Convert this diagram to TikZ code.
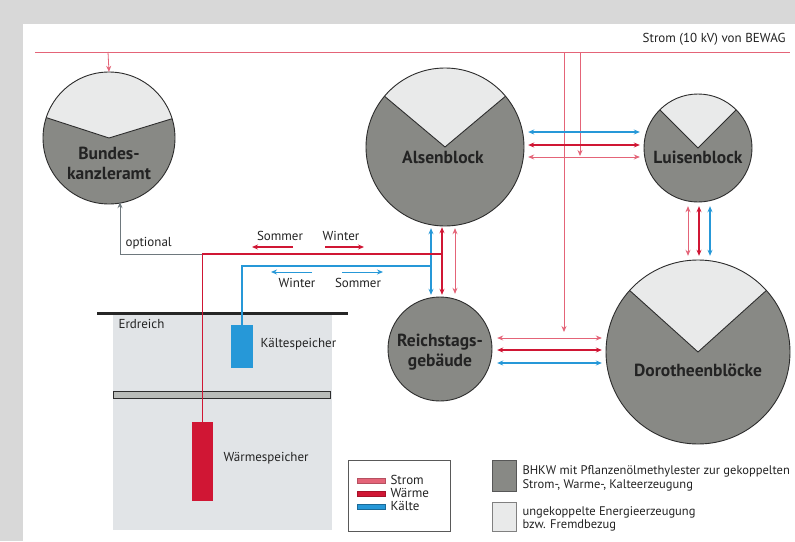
\documentclass[tikz,border=0pt]{standalone}
\usepackage{fontspec}
\setmainfont{PT Sans}
\usetikzlibrary{arrows.meta}
\definecolor{stromc}{RGB}{228,100,120}
\definecolor{waermec}{RGB}{208,22,52}
\definecolor{kaeltec}{RGB}{38,152,216}
\definecolor{darkfill}{RGB}{136,137,133}
\definecolor{lightfill}{RGB}{233,234,234}
\definecolor{framec}{RGB}{216,216,216}
\definecolor{groundc}{RGB}{225,228,231}
\definecolor{optc}{RGB}{110,120,125}
\definecolor{txt}{RGB}{35,35,35}
\definecolor{outlc}{RGB}{45,45,45}
\tikzset{
  strom/.style={draw=stromc, line width=0.8pt},
  waerme/.style={draw=waermec, line width=1.6pt},
  kaelte/.style={draw=kaeltec, line width=1.3pt},
  bldg/.style={circle, fill=darkfill, inner sep=0pt},
  outl/.style={draw=outlc, line width=0.9pt},
  bname/.style={font=\fontsize{17.5}{20}\selectfont\bfseries, text=txt, align=center},
  lbl/.style={font=\fontsize{13}{14}\selectfont, text=txt},
  leg/.style={font=\fontsize{12.5}{13.5}\selectfont, text=txt},
  >={Stealth[length=6pt,width=5pt]}
}
\begin{document}
\begin{tikzpicture}[x=1pt,y=-1pt]
\useasboundingbox (0,0) rectangle (795,541);
\fill[framec] (0,0) rectangle (795,541);
\fill[white] (23,24) rectangle (795,541);

% ground
\fill[groundc] (113,313) rectangle (332,530);
\draw[draw=outlc, fill={rgb,255:red,185;green,188;blue,185}, line width=0.8pt] (113,391) rectangle (330,398);
\draw[line width=3pt, black!85] (97,313) -- (348,313);
\node[lbl, anchor=west] (erd) at (115,324) {Erdreich};
\node[fill=kaeltec, minimum width=22pt, minimum height=43pt, inner sep=0pt] (kspei) at (242,346.5) {};
\node[lbl, anchor=west] (kspeiT) at (257,344) {Kältespeicher};
\node[fill=waermec, minimum width=21pt, minimum height=79pt, inner sep=0pt] (wspei) at (202.5,461.5) {};
\node[lbl, anchor=west] (wspeiT) at (220,458) {Wärmespeicher};

% buildings
\node[bldg, minimum size=132pt] (bka) at (109,138) {};
\fill[lightfill] (bka.center) -- ++(-17:66) arc (-17:-162:66) -- cycle;
\draw[outl] (bka.center) ++(-17:66) -- (bka.center) -- ++(-162:66);
\draw[outl] (bka.center) circle[radius=66pt];
\node[bname] (bkaT) at (109,163) {Bundes-\\kanzleramt};

\node[bldg, minimum size=158pt] (alsen) at (445,147) {};
\fill[lightfill] (alsen.center) -- ++(-40:79) arc (-40:-140:79) -- cycle;
\draw[outl] (alsen.center) ++(-40:79) -- (alsen.center) -- ++(-140:79);
\draw[outl] (alsen.center) circle[radius=79pt];
\node[bname] (alsenT) at (443,157) {Alsenblock};

\node[bldg, minimum size=108pt] (luisen) at (698,148) {};
\fill[lightfill] (luisen.center) -- ++(-45:54) arc (-45:-135:54) -- cycle;
\draw[outl] (luisen.center) ++(-45:54) -- (luisen.center) -- ++(-135:54);
\draw[outl] (luisen.center) circle[radius=54pt];
\node[bname] (luisenT) at (698,157) {Luisenblock};

\node[bldg, minimum size=184pt] (doro) at (698,352) {};
\fill[lightfill] (doro.center) -- ++(-42:92) arc (-42:-138:92) -- cycle;
\draw[outl] (doro.center) ++(-42:92) -- (doro.center) -- ++(-138:92);
\draw[outl] (doro.center) circle[radius=92pt];
\node[bname] (doroT) at (698,370) {Dorotheenblöcke};

\node[bldg, minimum size=104pt] (reich) at (440,349) {};
\draw[outl] (reich.center) circle[radius=52pt];
\node[bname] (reichT) at (440,352) {Reichstags-\\gebäude};

% top Strom line
\coordinate (topL) at (35,52);
\coordinate (topR) at (790,52);
\draw[strom] (topL) -- (topR);
\node[lbl, anchor=south east] (bewag) at (789,49) {Strom (10 kV) von BEWAG};
\coordinate (d0) at (108,52);
\draw[strom,->] (d0) -- (bka.north);
\coordinate (d1) at (564,52);
\coordinate (d1e) at (564,332);
\draw[strom,->] (d1) -- (d1e);
\coordinate (d2) at (580,52);
\coordinate (d2e) at (580,156);
\draw[strom,->] (d2) -- (d2e);

% Alsen <-> Luisen
\draw[kaelte,<->,shorten <=4pt,shorten >=4pt] (alsen.east |- 0,132) -- (luisen.west |- 0,132);
\draw[waerme,<->,shorten <=4pt,shorten >=4pt] (alsen.east |- 0,145) -- (luisen.west |- 0,145);
\draw[strom,<->,shorten <=4pt,shorten >=4pt] (alsen.east |- 0,157) -- (luisen.west |- 0,157);

% Reichstag <-> Dorotheen
\draw[strom,<->,shorten <=5pt,shorten >=4pt] (reich.east |- 0,338) -- (doro.west |- 0,338);
\draw[waerme,<->,shorten <=5pt,shorten >=4pt] (reich.east |- 0,350) -- (doro.west |- 0,350);
\draw[kaelte,<->,shorten <=5pt,shorten >=4pt] (reich.east |- 0,363) -- (doro.west |- 0,363);

% Alsen <-> Reichstag
\draw[kaelte,<->,shorten <=2pt,shorten >=2pt] (alsen.south -| 431,0) -- (reich.north -| 431,0);
\draw[waerme,<->,shorten <=1pt,shorten >=2pt] (alsen.south -| 442,0) -- (reich.north -| 442,0);
\draw[strom,<->,shorten <=2pt,shorten >=3pt] (alsen.south -| 455,0) -- (reich.north -| 455,0);

% Luisen <-> Dorotheen
\draw[strom,<->,shorten <=4pt,shorten >=4pt] (luisen.south -| 688,0) -- (doro.north -| 688,0);
\draw[waerme,<->,shorten <=4pt,shorten >=4pt] (luisen.south -| 699,0) -- (doro.north -| 699,0);
\draw[kaelte,<->,shorten <=4pt,shorten >=4pt] (luisen.south -| 710,0) -- (doro.north -| 710,0);

% storage connections
\coordinate (wj) at (442,254);
\coordinate (kj) at (431,266);
\coordinate (optc1) at (203,254);
\draw[draw=optc, line width=0.9pt,->] (optc1) -| ([yshift=2pt]bka.south -| 120,0);
\node[lbl, anchor=west] (optT) at (122,243) {optional};
\draw[waerme] (wj) -| (wspei.north);
\draw[kaelte] (kj) -| (kspei.north);

% Sommer / Winter arrows
\coordinate (ws1) at (293,247); \coordinate (ws2) at (252,247);
\draw[waerme,->] (ws1) -- (ws2);
\node[lbl] (sT1) at (280,236) {Sommer};
\coordinate (ww1) at (325,247); \coordinate (ww2) at (364,247);
\draw[waerme,->] (ww1) -- (ww2);
\node[lbl] (wT1) at (341,236) {Winter};
\coordinate (kw1) at (312,272); \coordinate (kw2) at (271,272);
\draw[kaeltec, line width=1pt,->] (kw1) -- (kw2);
\node[lbl] (wT2) at (297,283) {Winter};
\coordinate (ks1) at (342,272); \coordinate (ks2) at (383,272);
\draw[kaeltec, line width=1pt,->] (ks1) -- (ks2);
\node[lbl] (sT2) at (358,283) {Sommer};

% legend
\draw[draw=gray!70!black, fill=white, line width=0.8pt] (348,460) rectangle (450,531);
\draw[draw=stromc!80!black, fill=stromc, line width=0.6pt] (357,478) rectangle (385,483);
\draw[draw=waermec!80!black, fill=waermec, line width=0.6pt] (357,491) rectangle (385,496);
\draw[draw=kaeltec!70!black, fill=kaeltec, line width=0.6pt] (357,504) rectangle (385,509);
\node[lbl, anchor=west] (l1) at (387,480) {Strom};
\node[lbl, anchor=west] (l2) at (387,493) {Wärme};
\node[lbl, anchor=west] (l3) at (387,506) {Kälte};

\draw[draw=outlc!80, fill=darkfill, line width=0.8pt] (492,460) rectangle (516,491);
\draw[draw=gray, fill=lightfill, line width=0.8pt] (492,502) rectangle (516,531);
\node[leg, anchor=west, align=left] (lg1) at (519,478.5) {BHKW mit Pflanzenölmethylester zur gekoppelten\\Strom-, Warme-, Kalteerzeugung};
\node[leg, anchor=west, align=left] (lg2) at (519,519) {ungekoppelte Energieerzeugung\\bzw. Fremdbezug};
\end{tikzpicture}
\end{document}
